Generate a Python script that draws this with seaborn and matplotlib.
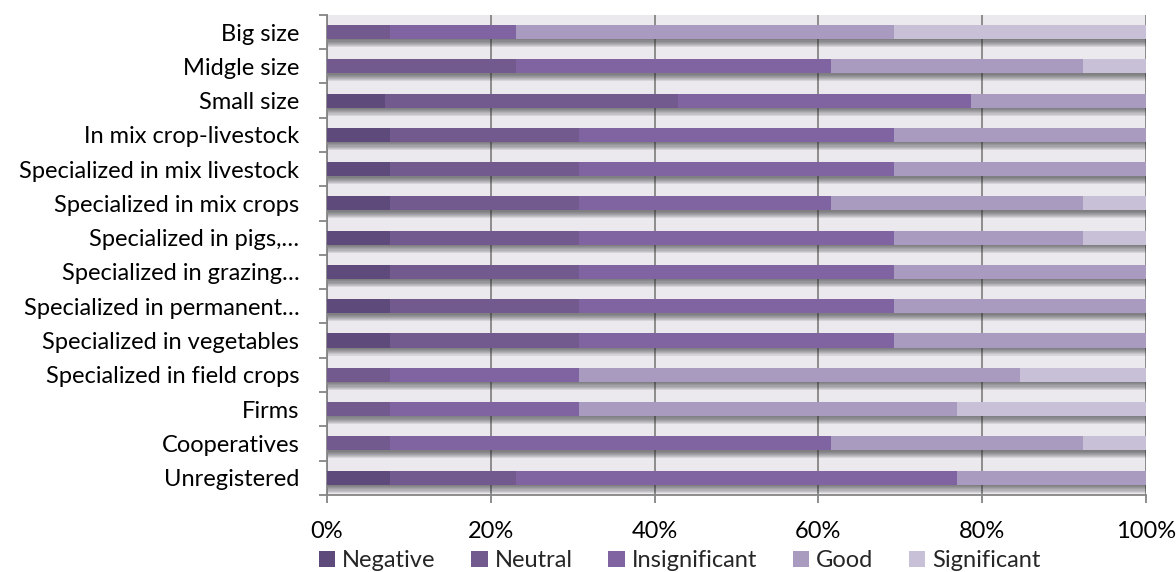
import numpy as np
import pandas as pd
import matplotlib
matplotlib.use("Agg")
import matplotlib.pyplot as plt
import matplotlib.patheffects as pe
from matplotlib.patches import Patch
import seaborn as sns

categories = [
    "Big size", "Midgle size", "Small size", "In mix crop-livestock",
    "Specialized in mix livestock", "Specialized in mix crops",
    "Specialized in pigs,\u2026", "Specialized in grazing\u2026",
    "Specialized in permanent\u2026", "Specialized in vegetables",
    "Specialized in field crops", "Firms", "Cooperatives", "Unregistered",
]

# shares of answers per group (%)
negative      = [0.0, 0.0, 7.1, 7.7, 7.7, 7.7, 7.7, 7.7, 7.7, 7.7, 0.0, 0.0, 0.0, 7.7]
neutral       = [7.7, 23.1, 35.7, 23.1, 23.1, 23.1, 23.1, 23.1, 23.1, 23.1, 7.7, 7.7, 7.7, 15.4]
insignificant = [15.4, 38.5, 35.7, 38.5, 38.5, 30.8, 38.5, 38.5, 38.5, 38.5, 23.1, 23.1, 53.8, 53.8]
good          = [46.2, 30.8, 21.4, 30.8, 30.8, 30.8, 23.1, 30.8, 30.8, 30.8, 53.8, 46.2, 30.8, 23.1]
significant   = [30.8, 7.7, 0.0, 0.0, 0.0, 7.7, 7.7, 0.0, 0.0, 0.0, 15.4, 23.1, 7.7, 0.0]

series_names = ["Negative", "Neutral", "Insignificant", "Good", "Significant"]
colors = ["#5f4b7b", "#725a8f", "#8064a2", "#a99ac0", "#c8c0d7"]

df = pd.DataFrame({
    "Negative": negative, "Neutral": neutral, "Insignificant": insignificant,
    "Good": good, "Significant": significant,
}, index=categories)
shares = df.div(df.sum(axis=1), axis=0)
cum = shares.cumsum(axis=1)

sns.set_theme(style="white")
plt.rcParams["font.family"] = ["Lato", "DejaVu Sans"]
FS = 17

fig = plt.figure(figsize=(11.76, 5.72), dpi=100)
ax = fig.add_axes([0.278, 0.135, 0.6965, 0.839])
ax.set_facecolor("#ebe9ee")

# soft drop shadow under each full bar
shadow = [pe.SimplePatchShadow(offset=(0.6, -k), shadow_rgbFace="#303030", alpha=0.11)
          for k in (1.0, 1.8, 2.6, 3.4, 4.2, 5.0, 5.8)] + [pe.Normal()]

# stacked bars: draw cumulative totals from the longest to the shortest
for i in range(len(series_names) - 1, -1, -1):
    name = series_names[i]
    n_before = len(ax.patches)
    sns.barplot(x=cum[name].values, y=categories, orient="h", color=colors[i],
                width=0.41, saturation=1, ax=ax, linewidth=0)
    for p in ax.patches[n_before:]:
        p.set_zorder(3 + (4 - i) * 0.01)
        if i == len(series_names) - 1:
            p.set_path_effects(shadow)

ax.set_xlim(0, 1)
ax.set_ylim(len(categories) - 0.5, -0.5)
ax.set_xticks(np.linspace(0, 1, 6))
ax.set_xticklabels([f"{int(v)}%" for v in np.linspace(0, 100, 6)])
ax.set_yticks(np.arange(len(categories)))
ax.set_yticklabels(categories)
ax.set_xlabel("")
ax.set_ylabel("")

ax.xaxis.grid(True, color="#858585", linewidth=1.3, zorder=1)
ax.set_axisbelow(True)
ax.yaxis.grid(False)

# category boundary ticks on the value axis
ax.set_yticks(np.arange(len(categories) + 1) - 0.5, minor=True)
ax.tick_params(axis="y", which="major", length=0, pad=20, labelsize=FS, colors="black")
ax.tick_params(axis="y", which="minor", length=6, width=1.3, color="#858585", left=True)
ax.tick_params(axis="x", which="major", length=6, width=1.3, color="#858585",
               bottom=True, pad=13, labelsize=FS, labelcolor="black")

for s in ["top", "right"]:
    ax.spines[s].set_visible(False)
for s in ["left", "bottom"]:
    ax.spines[s].set_color("#858585")
    ax.spines[s].set_linewidth(1.3)

handles = [Patch(facecolor=c, edgecolor="none") for c in colors]
fig.legend(handles, series_names, loc="lower center", bbox_to_anchor=(0.578, -0.036),
           ncol=5, frameon=False, fontsize=FS, handlelength=0.7, handleheight=0.7,
           handletextpad=0.3, columnspacing=1.5)

fig.savefig("out.png", dpi=100)
